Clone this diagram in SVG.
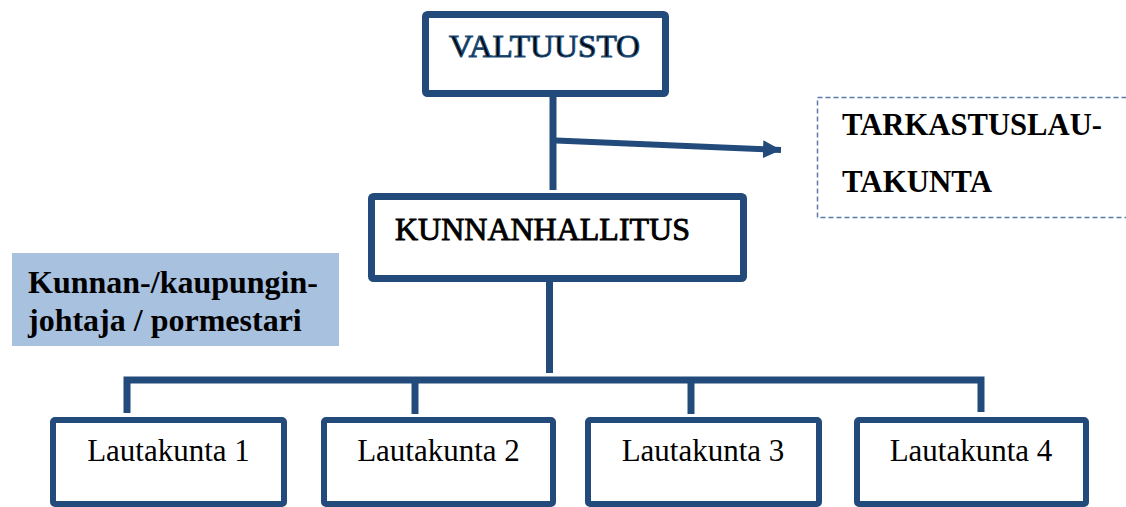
<svg xmlns="http://www.w3.org/2000/svg" width="1126" height="507" viewBox="0 0 1126 507">
<style>
.box{fill:#fff;stroke:#224a7b;stroke-width:7}
.lbox{fill:#fff;stroke:#224a7b;stroke-width:6}
.ln{stroke:#224a7b;stroke-width:7;fill:none}
.t{font-family:"Liberation Serif","Times New Roman",serif;fill:#000}
.lt{font-size:31px;text-anchor:middle}
.b{font-weight:bold}
</style>
<defs>
<marker id="ah" markerUnits="userSpaceOnUse" markerWidth="20" markerHeight="20" refX="18" refY="9" orient="auto">
<path d="M0,0 L18,9 L0,18 Z" fill="#224a7b"/>
</marker>
</defs>
<g id="connectors">
<line class="ln" x1="553" y1="97" x2="553" y2="190"/>
<line class="ln" x1="556" y1="140.5" x2="781" y2="150" marker-end="url(#ah)" style="stroke-width:6"/>
<line class="ln" x1="549.5" y1="282" x2="549.5" y2="373"/>
<polyline class="ln" points="127,413 127,380 981,380 981,412"/>
<line class="ln" x1="415" y1="380" x2="415" y2="414"/>
<line class="ln" x1="691" y1="380" x2="691" y2="414"/>
</g>
<g id="valtuusto">
<rect class="box" x="425.5" y="14.5" width="240" height="79" rx="2"/>
<text class="t" x="449" y="57" font-size="32" stroke="#1f4e79" stroke-width="1.2" textLength="191" lengthAdjust="spacingAndGlyphs">VALTUUSTO</text>
</g>
<g id="tarkastuslautakunta">
<rect x="817.5" y="97.5" width="320" height="120" fill="#fff" stroke="#5b7ba6" stroke-width="1.5" stroke-dasharray="5,3"/>
<text class="t b" x="842" y="135" font-size="30.5" textLength="260" lengthAdjust="spacingAndGlyphs">TARKASTUSLAU-</text>
<text class="t b" x="842" y="192" font-size="30.5" textLength="150" lengthAdjust="spacingAndGlyphs">TAKUNTA</text>
</g>
<g id="kunnanhallitus">
<rect class="box" x="371.5" y="196.5" width="372" height="82" rx="2"/>
<text class="t" x="395" y="240" font-size="32" stroke="#000" stroke-width="0.9" textLength="295" lengthAdjust="spacingAndGlyphs">KUNNANHALLITUS</text>
</g>
<g id="johtaja">
<rect x="12" y="253" width="327" height="93" fill="#a8c1df"/>
<text class="t b" x="28" y="293" font-size="32">Kunnan-/kaupungin-</text>
<text class="t b" x="28" y="331" font-size="32">johtaja / pormestari</text>
</g>
<g id="lautakunta1">
<rect class="lbox" x="53" y="420" width="231" height="84" rx="2"/>
<text class="t lt" x="168.5" y="461">Lautakunta 1</text>
</g>
<g id="lautakunta2">
<rect class="lbox" x="324" y="420" width="229" height="84" rx="2"/>
<text class="t lt" x="438.5" y="461">Lautakunta 2</text>
</g>
<g id="lautakunta3">
<rect class="lbox" x="588" y="420" width="231" height="84" rx="2"/>
<text class="t lt" x="703" y="461">Lautakunta 3</text>
</g>
<g id="lautakunta4">
<rect class="lbox" x="857" y="420" width="229" height="84" rx="2"/>
<text class="t lt" x="971" y="461">Lautakunta 4</text>
</g>
</svg>
